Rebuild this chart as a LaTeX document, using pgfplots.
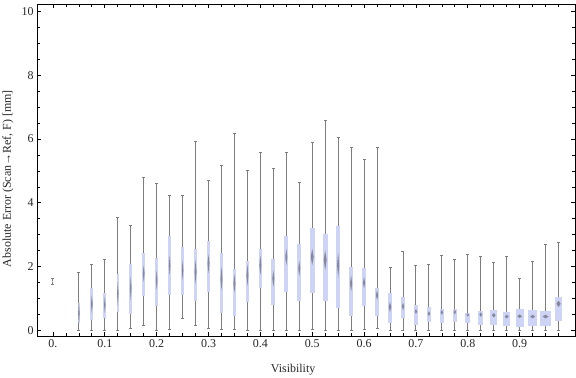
\documentclass[border=0pt]{standalone}
\usepackage{pgfplots}
\pgfplotsset{compat=1.18}
\usepackage{pgfplotstable}
\usepackage{fontspec}
\setmainfont{Liberation Serif}

\definecolor{boxc}{RGB}{205,212,245}
\definecolor{whc}{RGB}{125,125,125}
\definecolor{medc}{RGB}{118,118,135}

% k: bin index (0.025 visibility per bin), mn/mx: whisker ends, q1/md/q3: box, hw: box half width, dh: median notch half height
\pgfplotstableread{
k  mn   q1   md   q3   mx   hw    dh
0  1.45 1.52 1.54 1.56 1.63 0.040 0.00
2  0.00 0.23 0.53 0.86 1.81 0.077 0.37
3  0.00 0.31 0.82 1.32 2.07 0.127 0.29
4  0.00 0.37 0.80 1.17 2.23 0.104 0.26
5  0.00 0.57 1.15 1.77 3.53 0.089 0.37
6  0.06 0.51 1.31 2.07 3.30 0.104 0.37
7  0.15 1.06 1.78 2.42 4.78 0.127 0.26
8  0.00 0.75 1.57 2.27 4.62 0.116 0.31
9  0.04 1.10 2.04 2.97 4.24 0.104 0.31
10 0.37 1.10 1.88 2.60 4.24 0.104 0.31
11 0.15 0.91 1.83 2.56 5.91 0.143 0.37
12 0.05 1.20 2.09 2.81 4.69 0.143 0.29
13 0.02 0.54 1.62 2.42 5.18 0.143 0.37
14 0.02 0.45 1.47 1.92 6.18 0.143 0.29
15 0.00 0.89 1.73 2.17 5.02 0.143 0.34
16 0.00 1.33 2.04 2.54 5.58 0.143 0.31
17 0.00 0.78 1.62 2.23 5.08 0.143 0.26
18 0.00 1.20 2.30 2.95 5.58 0.143 0.26
19 0.00 0.91 1.94 2.72 4.64 0.143 0.24
20 0.02 1.17 2.30 3.20 5.90 0.204 0.26
21 0.00 0.91 2.20 3.02 6.59 0.204 0.31
22 0.00 0.69 2.04 3.27 6.05 0.154 0.40
23 0.00 0.45 1.47 1.98 5.74 0.154 0.26
24 0.02 0.75 1.49 1.95 5.36 0.154 0.18
25 0.07 0.45 1.10 1.32 5.74 0.154 0.16
26 0.00 0.23 0.73 1.16 1.97 0.181 0.16
27 0.00 0.38 0.75 1.04 2.47 0.166 0.12
28 0.00 0.17 0.59 0.79 2.03 0.166 0.08
29 0.00 0.26 0.52 0.72 2.07 0.166 0.08
30 0.00 0.23 0.56 0.66 2.36 0.166 0.08
31 0.00 0.26 0.57 0.68 2.22 0.166 0.08
32 0.00 0.23 0.48 0.53 2.39 0.193 0.05
33 0.00 0.18 0.49 0.60 2.31 0.204 0.07
34 0.00 0.18 0.47 0.65 2.13 0.270 0.07
35 0.00 0.12 0.43 0.57 2.31 0.270 0.06
36 0.00 0.10 0.44 0.68 1.62 0.320 0.06
37 0.00 0.14 0.43 0.63 2.16 0.335 0.06
38 0.00 0.14 0.43 0.60 2.69 0.412 0.06
39 0.00 0.29 0.83 1.03 2.76 0.297 0.10
}\bwdata

\begin{document}
\begin{tikzpicture}
\begin{axis}[
  scale only axis, width=538bp, height=332bp,
  xmin=-1.23, xmax=40.27, ymin=-0.19, ymax=10.23,
  xtick={0,4,...,36},
  xticklabels={0.,0.1,0.2,0.3,0.4,0.5,0.6,0.7,0.8,0.9},
  minor xtick={0,...,39},
  ytick={0,2,...,10},
  minor ytick={0,0.5,...,10},
  tick align=inside,
  major tick length=4bp, minor tick length=3bp,
  every tick/.style={black, line width=0.7bp},
  axis line style={line width=0.9bp, black},
  /pgf/number format/assume math mode=true,
  tick label style={font=\fontsize{12}{12}\selectfont, black!85},
  xlabel={Visibility},
  ylabel={Absolute Error (Scan→Ref, F) [mm]},
  label style={font=\fontsize{12}{14}\selectfont, black!85},
  xlabel style={at={(axis description cs:0.476,-0.0994)}, anchor=center},
  ylabel style={at={(axis description cs:-0.054,0.475)}, anchor=center},
  clip=false,
]
\pgfplotsinvokeforeach{0,...,38}{
  \pgfplotstablegetelem{#1}{k}\of\bwdata \let\K\pgfplotsretval
  \pgfplotstablegetelem{#1}{mn}\of\bwdata \let\MN\pgfplotsretval
  \pgfplotstablegetelem{#1}{q1}\of\bwdata \let\QA\pgfplotsretval
  \pgfplotstablegetelem{#1}{md}\of\bwdata \let\MD\pgfplotsretval
  \pgfplotstablegetelem{#1}{q3}\of\bwdata \let\QC\pgfplotsretval
  \pgfplotstablegetelem{#1}{mx}\of\bwdata \let\MX\pgfplotsretval
  \pgfplotstablegetelem{#1}{hw}\of\bwdata \let\HW\pgfplotsretval
  \pgfplotstablegetelem{#1}{dh}\of\bwdata \let\DH\pgfplotsretval
  \pgfmathsetmacro\XL{\K-\HW}\pgfmathsetmacro\XR{\K+\HW}
  \pgfmathsetmacro\CL{\K-0.116}\pgfmathsetmacro\CR{\K+0.116}
  \pgfmathsetmacro\DW{max(0.55*\HW,0.06)}
  \pgfmathsetmacro\DL{\K-\DW}\pgfmathsetmacro\DR{\K+\DW}
  \pgfmathsetmacro\DT{\MD+\DH}\pgfmathsetmacro\DB{\MD-\DH}
  \edef\tmp{%
    \noexpand\addplot[whc, line width=0.9bp] coordinates {(\K,\MN) (\K,\MX)};
    \noexpand\addplot[whc, line width=0.9bp] coordinates {(\CL,\MN) (\CR,\MN)};
    \noexpand\addplot[whc, line width=0.9bp] coordinates {(\CL,\MX) (\CR,\MX)};
    \noexpand\addplot[fill=boxc, draw=none] coordinates {(\XL,\QA) (\XR,\QA) (\XR,\QC) (\XL,\QC)};
    \noexpand\addplot[fill=medc, draw=none, fill opacity=0.8] coordinates {(\DL,\MD) (\K,\DT) (\DR,\MD) (\K,\DB)};
  }\tmp
}
\end{axis}
\pgfresetboundingbox
\path[use as bounding box] ([xshift=-37bp,yshift=-41bp]current axis.south west) rectangle ([xshift=1bp,yshift=4.3bp]current axis.north east);
\end{tikzpicture}
\end{document}
